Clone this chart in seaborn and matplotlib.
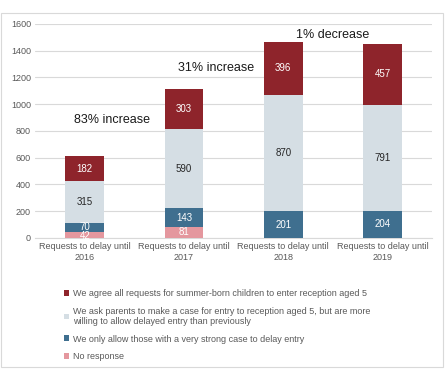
import numpy as np
import pandas as pd
import matplotlib
matplotlib.use("Agg")
import matplotlib.pyplot as plt
import seaborn as sns
from matplotlib.patches import Patch, Rectangle

# -----------------------------------------------------
# DATA
# -----------------------------------------------------
categories = ["Requests to delay until\n2016", "Requests to delay until\n2017",
              "Requests to delay until\n2018", "Requests to delay until\n2019"]
no_response = [42, 81, 0, 0]
strong_case = [70, 143, 201, 204]
ask_parents = [315, 590, 870, 791]
agree_all = [182, 303, 396, 457]

series_names = [
    "We agree all requests for summer-born children to enter reception aged 5",
    "We ask parents to make a case for entry to reception aged 5, but are more\nwilling to allow delayed entry than previously",
    "We only allow those with a very strong case to delay entry",
    "No response",
]
annotations = ["83% increase", "31% increase", "1% decrease"]

colors = ["#8E242B", "#D5DEE4", "#3F6F8F", "#E4979E"]
text_colors = ["white", "#262626", "white", "white"]

# -----------------------------------------------------
# BUILD STACKS (bottom to top: no response, strong, ask, agree)
# -----------------------------------------------------
layers = [no_response, strong_case, ask_parents, agree_all]
cum = np.cumsum(np.array(layers), axis=0)
df = pd.DataFrame({"cat": categories})
for i in range(4):
    df[f"top{i}"] = cum[i]
    df[f"bot{i}"] = cum[i] - np.array(layers[i])

sns.set_style("white")
plt.rcParams["font.family"] = ["Liberation Sans", "DejaVu Sans"]

fig = plt.figure(figsize=(4.45, 3.73), dpi=100)
ax = fig.add_axes([0.079, 0.362, 0.892, 0.574])

# draw from tallest stack to shortest so each layer covers the one above
layer_colors = colors[::-1]  # bottom-up order
for i in range(3, -1, -1):
    sns.barplot(data=df, x="cat", y=f"top{i}", color=layer_colors[i],
                width=0.39, saturation=1, ax=ax, zorder=3, linewidth=0)

# segment labels (small segments nudged apart a little)
layer_text = text_colors[::-1]
for i in range(4):
    for j in range(len(categories)):
        v = layers[i][j]
        if v == 0:
            continue
        ymid = df[f"bot{i}"][j] + v / 2
        if v < 60:
            ymid -= 6
        elif v < 100:
            ymid += 6
        ax.text(j, ymid, str(v), ha="center", va="center",
                fontsize=7, color=layer_text[i], zorder=5)

# increase / decrease annotations
ax.text(0.27, 880, annotations[0], ha="center", va="center", fontsize=9, color="#1a1a1a")
ax.text(1.32, 1270, annotations[1], ha="center", va="center", fontsize=9, color="#1a1a1a")
ax.text(2.5, 1520, annotations[2], ha="center", va="center", fontsize=9, color="#1a1a1a")

ax.set_ylim(0, 1600)
ax.set_xlim(-0.5, 3.5)
ax.set_yticks(range(0, 1601, 200))
ax.yaxis.grid(True, color="#D9D9D9", linewidth=0.8, zorder=0)
ax.set_axisbelow(True)
ax.set_xlabel("")
ax.set_ylabel("")
for s in ["top", "right", "left"]:
    ax.spines[s].set_visible(False)
ax.spines["bottom"].set_color("#D9D9D9")
ax.tick_params(axis="both", length=0, labelsize=6.5, colors="#595959", pad=3)

# legend
handles = [Patch(facecolor=c, edgecolor="none") for c in colors]
fig.legend(handles, series_names, loc="upper left", bbox_to_anchor=(0.135, 0.235),
           frameon=False, fontsize=6.5, labelcolor="#595959", handlelength=0.6,
           handleheight=0.6, handletextpad=0.4, labelspacing=0.95, borderaxespad=0)

# outer frame
fig.patches.append(Rectangle((0.003, 0.016), 0.993, 0.949, transform=fig.transFigure,
                             fill=False, edgecolor="#D9D9D9", linewidth=0.8))

fig.savefig("out.png", dpi=100)
